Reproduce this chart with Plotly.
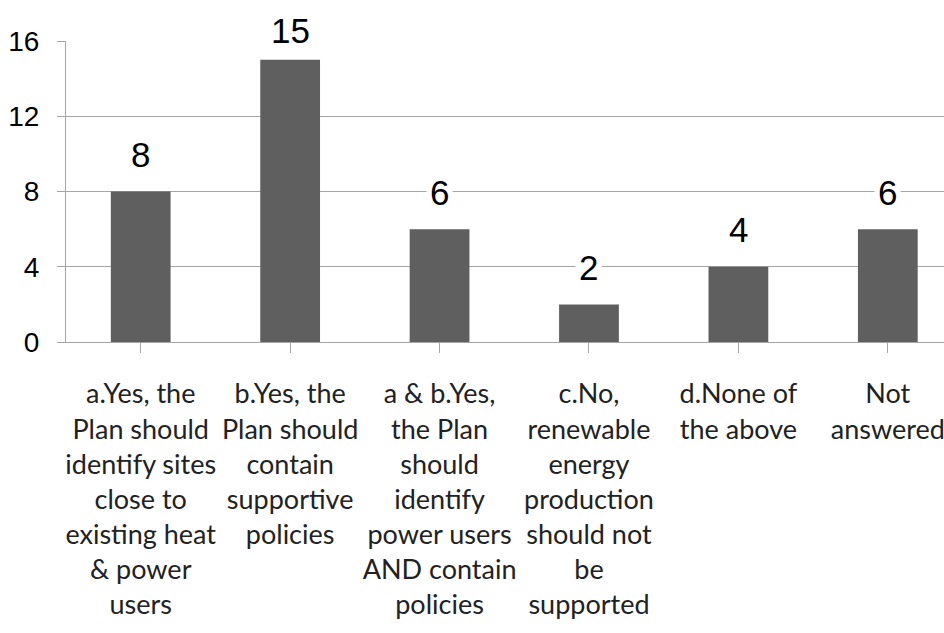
import plotly.graph_objects as go

# ── Data ──────────────────────────────────────────────────────────────────────
categories = [
    "a.Yes, the<br>Plan should<br>identify sites<br>close to<br>existing heat<br>& power<br>users",
    "b.Yes, the<br>Plan should<br>contain<br>supportive<br>policies",
    "a & b.Yes,<br>the Plan<br>should<br>identify<br>power users<br>AND contain<br>policies",
    "c.No,<br>renewable<br>energy<br>production<br>should not<br>be<br>supported",
    "d.None of<br>the above",
    "Not<br>answered",
]
counts = [8, 15, 6, 2, 4, 6]
y_ticks = [0, 4, 8, 12, 16]

BAR = "#5f5f5f"
GRID = "#a6a6a6"
Y_MAX = 16
PX_PER_UNIT = 301.5 / Y_MAX

fig = go.Figure(go.Bar(
    x=list(range(len(categories))), y=counts,
    marker=dict(color=BAR, line=dict(width=0)),
    width=0.4,
    hoverinfo="skip",
))

# value labels sit above the bars on a white box that masks the gridlines
for i, v in enumerate(counts):
    shift = min(37, (Y_MAX - v) * PX_PER_UNIT + 10)
    fig.add_annotation(
        x=i, y=v, yshift=shift, text=str(v), showarrow=False,
        font=dict(family="Liberation Sans", size=35, color="black"),
        bgcolor="white", borderpad=3,
    )

fig.update_layout(
    template="none",
    width=944, height=633,
    margin=dict(l=66, r=0, t=41, b=291, autoexpand=False),
    plot_bgcolor="white", paper_bgcolor="white",
    showlegend=False,
    bargap=0.6,
)
fig.update_xaxes(
    tickmode="array", tickvals=list(range(len(categories))), ticktext=categories,
    range=[-0.5, 5.376], automargin=False,
    tickson="boundaries", ticks="outside", ticklen=10, tickcolor=GRID,
    showline=True, linecolor=GRID, linewidth=1,
    showgrid=False, zeroline=False,
    tickangle=0, ticklabelstandoff=18, ticklabeloverflow="allow",
    tickfont=dict(family="Lato", size=27, color="#222222"),
)
fig.update_yaxes(
    range=[0, Y_MAX], tickvals=y_ticks, automargin=False,
    ticks="outside", ticklen=8, tickcolor=GRID,
    showline=True, linecolor=GRID, linewidth=1,
    showgrid=True, gridcolor=GRID, gridwidth=1,
    zeroline=False, ticklabelstandoff=12,
    tickfont=dict(family="Liberation Sans", size=28, color="black"),
)

# drop the default page margin so the figure fills the window exactly
fig.write_html(
    "out.html",
    config={"displayModeBar": False},
    post_script="document.body.style.margin='0';document.body.style.overflow='hidden';",
)
